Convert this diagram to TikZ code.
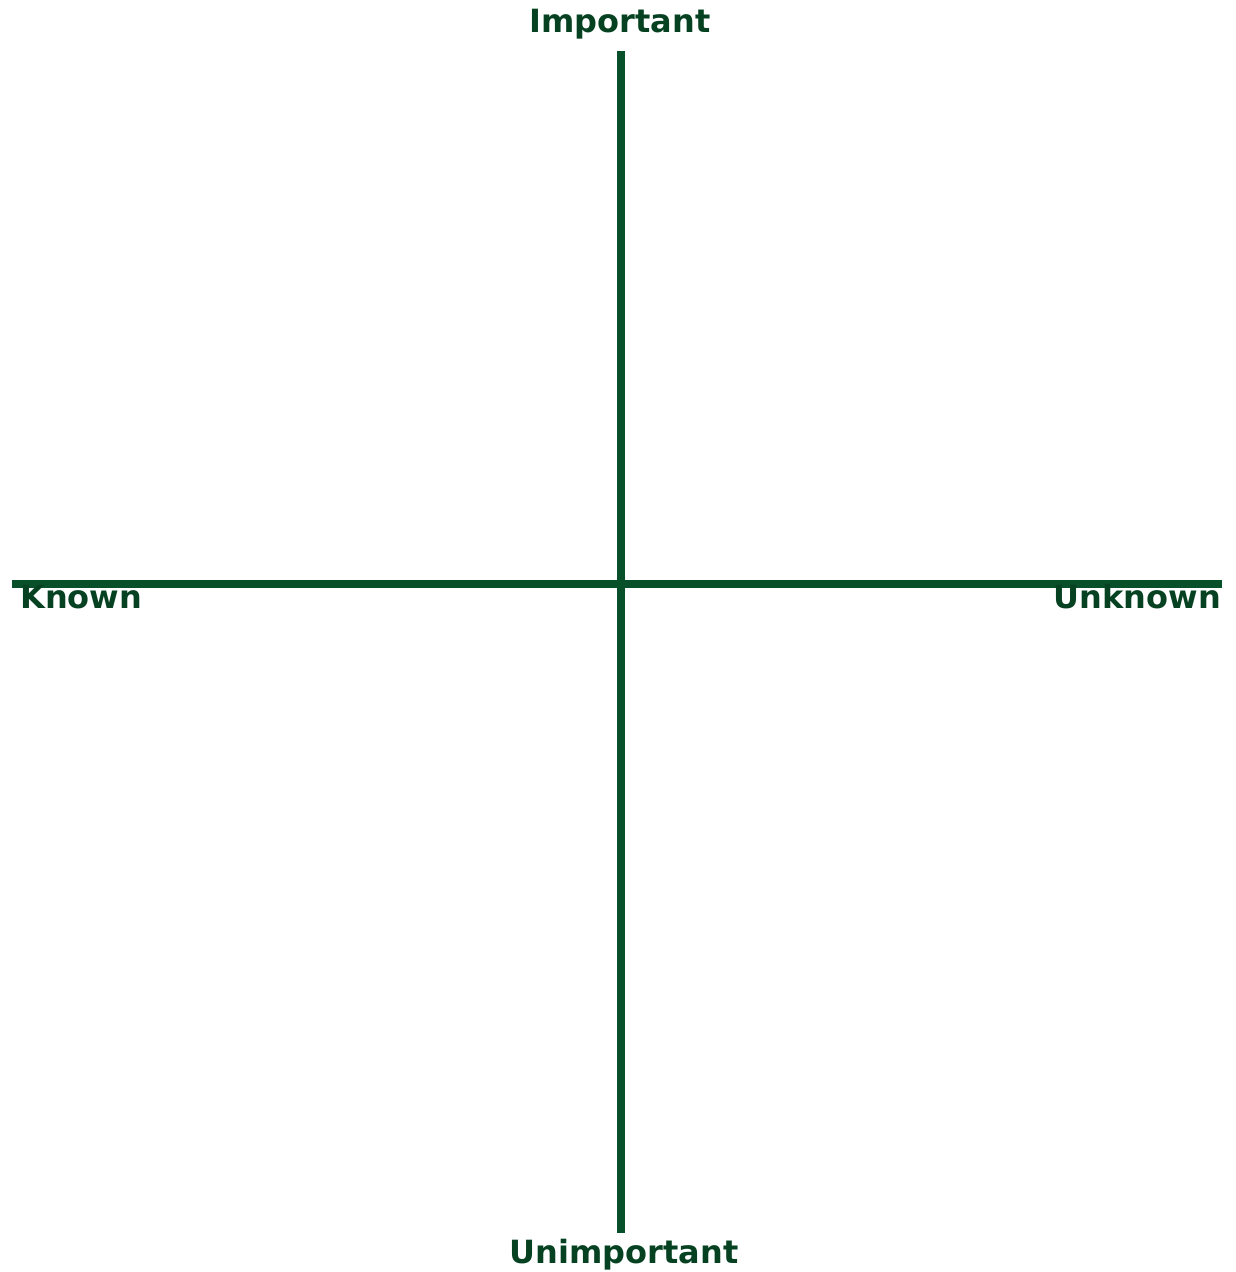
\documentclass[tikz,border=0pt]{standalone}
\usepackage{fontspec}
\setmainfont{DejaVu Sans}
\definecolor{axisgreen}{RGB}{8,80,42}
\definecolor{textgreen}{RGB}{6,66,34}
\begin{document}
\begin{tikzpicture}[x=1pt,y=-1pt,
  axis/.style={draw=axisgreen,line width=8pt},
  lbl/.style={text=textgreen,font=\fontsize{32}{38}\selectfont\bfseries,inner sep=0pt}]
\useasboundingbox (0,0) rectangle (1236,1272);
\coordinate (top) at (621,51);
\coordinate (bottom) at (621,1233);
\coordinate (left) at (12,584);
\coordinate (right) at (1222,584);
\draw[axis] (left) -- (right);
\draw[axis] (top) -- (bottom);
\node[lbl,anchor=base] (imp) at (620,32) {Important};
\node[lbl,anchor=base] (unimp) at (624,1263) {Unimportant};
\node[lbl,anchor=base west] (known) at (20,608) {Known};
\node[lbl,anchor=base east] (unknown) at (1221,608) {Unknown};
\end{tikzpicture}
\end{document}
